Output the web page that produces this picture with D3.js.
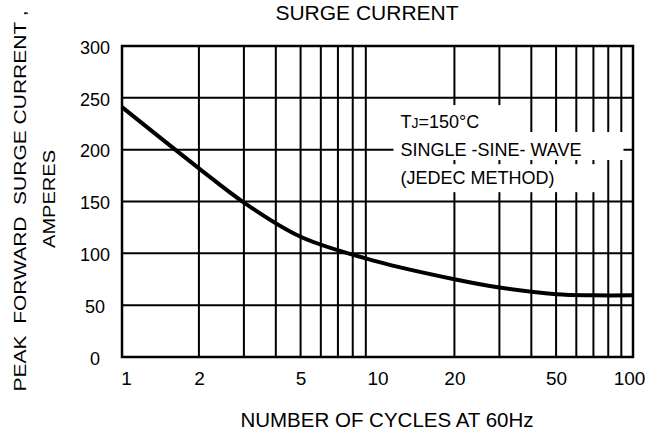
<!DOCTYPE html>
<html lang="en">

<head>
  <meta charset='utf-8'>
  <title>Surge Current</title>

  <style>
    body {
      margin: 0;
      background-color: #ffffff;
    }
    svg {
      display: block;
      font-family: "Liberation Sans", Arial, sans-serif;
      fill: #000;
    }
  </style>
</head>

<body>
  <div id="d3_surgeChart"></div>
</body>

<script src="https://d3js.org/d3.v7.min.js"></script>

<script>

  ////////////////////////////////////////////////// DATA

  // curve (cycles at 60Hz -> amperes)
  var cycles  = [1,   2,   3,   5,   10, 20, 30, 50,   70,   100];
  var current = [241, 182, 149, 116, 92, 75, 67, 60.5, 59.5, 59.5];

  var xGridValues  = [2, 3, 4, 5, 6, 7, 8, 9, 20, 30, 40, 50, 60, 70, 80, 90];
  var xTickLabels  = [1, 2, 5, 10, 20, 50, 100];
  var yGridValues  = [50, 100, 150, 200, 250];
  var yTickLabels  = [0, 50, 100, 150, 200, 250, 300];

  var chartTitle   = "SURGE CURRENT";
  var xTitle       = "NUMBER OF CYCLES AT 60Hz";
  var yTitle       = ["PEAK  FORWARD  SURGE CURRENT ,", "AMPERES"];
  var noteLines    = ["SINGLE -SINE- WAVE", "(JEDEC METHOD)"];

  ////////////////////////////////////////////////// INIT VARS

  var width  = 664;
  var height = 434;
  var margin = {top: 46, right: 31, bottom: 77, left: 122};

  var plotWidth  = width - margin.left - margin.right;
  var plotHeight = height - margin.top - margin.bottom;

  ////////////////////////////////////////////////// SETUP

  var svg = d3.select("#d3_surgeChart")
              .append("svg")
              .attr("width", width)
              .attr("height", height);

  var plot = svg.append("g")
                .attr("transform", "translate(" + margin.left + "," + margin.top + ")");

  var x = d3.scaleLog()
            .domain([1, 100])
            .range([0, plotWidth]);

  var y = d3.scaleLinear()
            .domain([0, 300])
            .range([plotHeight, 0]);

  // grid lines
  plot.append("g")
      .selectAll("line")
      .data(xGridValues)
      .enter()
      .append("line")
      .attr("x1", function(d){ return x(d); })
      .attr("x2", function(d){ return x(d); })
      .attr("y1", 0)
      .attr("y2", plotHeight)
      .attr("stroke", "#000")
      .attr("stroke-width", 2);

  plot.append("g")
      .selectAll("line")
      .data(yGridValues)
      .enter()
      .append("line")
      .attr("x1", 0)
      .attr("x2", plotWidth)
      .attr("y1", function(d){ return y(d); })
      .attr("y2", function(d){ return y(d); })
      .attr("stroke", "#000")
      .attr("stroke-width", 2);

  // note text, each line on its own white box over the grid
  var note = plot.append("g")
                 .attr("font-size", 18);

  var noteX = x(12.3);
  var lineTops = [y(243), y(217), y(186)];

  var noteTexts = [];

  var first = note.append("text")
                  .attr("x", noteX)
                  .attr("y", y(227))
                  .attr("dy", "0.35em");
  first.append("tspan").text("T");
  first.append("tspan").attr("font-size", 14).text("J");
  first.append("tspan").text("=150°C");
  noteTexts.push(first);

  noteLines.forEach(function(line, i){
    var t = note.append("text")
                .attr("x", noteX)
                .attr("y", y(200 - 27 * i))
                .attr("dy", "0.35em")
                .text(line);
    noteTexts.push(t);
  });

  noteTexts.forEach(function(t, i){
    var box = t.node().getBBox();
    note.insert("rect", "text")
        .attr("x", box.x - 7)
        .attr("y", lineTops[i])
        .attr("width", box.width + 49)
        .attr("height", 28)
        .attr("fill", "#fff");
  });

  // surge curve
  var line = d3.line()
               .x(function(d, i){ return x(cycles[i]); })
               .y(function(d){ return y(d); })
               .curve(d3.curveCatmullRom.alpha(0.5));

  plot.append("path")
      .datum(current)
      .attr("d", line)
      .attr("fill", "none")
      .attr("stroke", "#000")
      .attr("stroke-width", 4);

  // frame
  plot.append("rect")
      .attr("x", 0)
      .attr("y", 0)
      .attr("width", plotWidth)
      .attr("height", plotHeight)
      .attr("fill", "none")
      .attr("stroke", "#000")
      .attr("stroke-width", 2.5);

  ////////////////////////////////////////////////// AXES

  var xAxis = d3.axisBottom(x)
                .tickValues(xTickLabels)
                .tickFormat(d3.format("d"))
                .tickSize(0)
                .tickPadding(0);

  var xg = plot.append("g")
               .attr("transform", "translate(0," + plotHeight + ")")
               .call(xAxis);
  xg.select(".domain").remove();
  xg.selectAll("text")
    .attr("font-family", "Liberation Sans, Arial, sans-serif")
    .attr("font-size", 19)
    .attr("fill", "#000")
    .attr("y", 28)
    .attr("dy", 0)
    .attr("dx", function(d, i){ return i === 0 ? 4 : (i === xTickLabels.length - 1 ? -4 : 0); });

  var yAxis = d3.axisLeft(y)
                .tickValues(yTickLabels)
                .tickSize(0)
                .tickPadding(0);

  var yg = plot.append("g").call(yAxis);
  yg.select(".domain").remove();
  yg.selectAll("text")
    .attr("font-family", "Liberation Sans, Arial, sans-serif")
    .attr("font-size", 18)
    .attr("fill", "#000")
    .attr("text-anchor", "middle")
    .attr("x", -27)
    .attr("dy", "0.4em");

  ////////////////////////////////////////////////// TITLES

  svg.append("text")
     .attr("x", 367)
     .attr("y", 20)
     .attr("text-anchor", "middle")
     .attr("font-size", 21)
     .text(chartTitle);

  svg.append("text")
     .attr("x", 387)
     .attr("y", 427)
     .attr("text-anchor", "middle")
     .attr("font-size", 20.5)
     .text(xTitle);

  var yTitleSpots = [{cx: 26, cy: 201, len: 381}, {cx: 55, cy: 199, len: 98}];

  yTitle.forEach(function(t, i){
    svg.append("text")
       .attr("transform", "translate(" + yTitleSpots[i].cx + "," + yTitleSpots[i].cy + ") rotate(-90)")
       .attr("text-anchor", "middle")
       .attr("font-size", 16)
       .attr("textLength", yTitleSpots[i].len)
       .attr("lengthAdjust", "spacingAndGlyphs")
       .style("white-space", "pre")
       .text(t);
  });

</script>

</html>
